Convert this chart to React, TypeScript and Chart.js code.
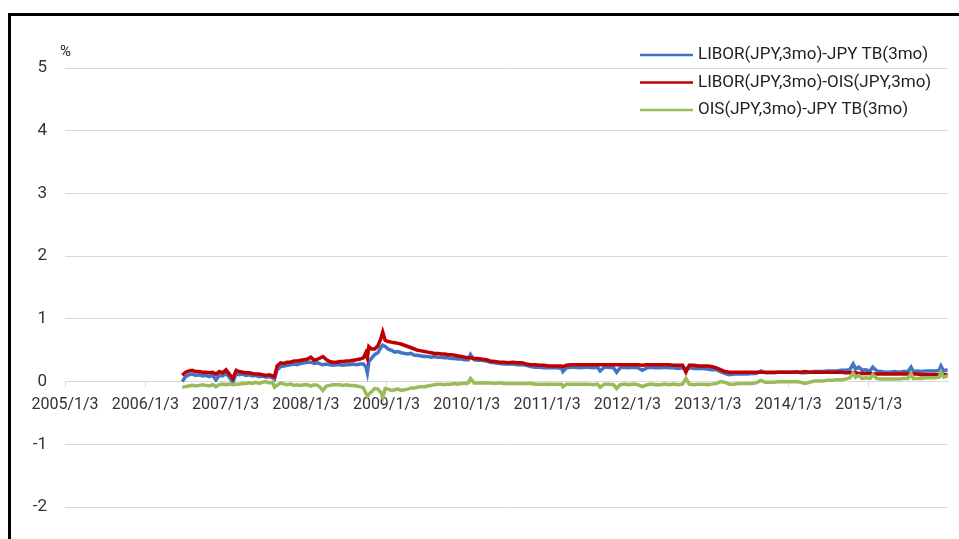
import React, { useEffect, useRef } from "react";
import { Chart, registerables } from "chart.js";

Chart.register(...registerables);

const seriesLabels = [
  "LIBOR(JPY,3mo)-JPY TB(3mo)",
  "LIBOR(JPY,3mo)-OIS(JPY,3mo)",
  "OIS(JPY,3mo)-JPY TB(3mo)",
];
const seriesColors = ["#4472C4", "#C00000", "#9BBB59"];

const tickLabels = [
  "2005/1/3", "2006/1/3", "2007/1/3", "2008/1/3", "2009/1/3", "2010/1/3",
  "2011/1/3", "2012/1/3", "2013/1/3", "2014/1/3", "2015/1/3",
];
const axisStart = "2005/1/3";
const axisEnd = "2015/12/30";
const yTicks = [5, 4, 3, 2, 1, 0, -1, -2, -3];

const dates = [
  // 2006
  "2006/6/20", "2006/7/5", "2006/7/20", "2006/8/5", "2006/8/20", "2006/9/5", "2006/9/20", "2006/10/5", "2006/10/20", "2006/11/5", "2006/11/20", "2006/12/5", "2006/12/20",
  // 2007
  "2007/1/5", "2007/1/20", "2007/2/5", "2007/2/20", "2007/3/5", "2007/3/20", "2007/4/5", "2007/4/20", "2007/5/5", "2007/5/20", "2007/6/5", "2007/6/20", "2007/7/5", "2007/7/20", "2007/8/5", "2007/8/13", "2007/8/25", "2007/9/10", "2007/9/25", "2007/10/10", "2007/10/25", "2007/11/10", "2007/11/25", "2007/12/10", "2007/12/25",
  // 2008
  "2008/1/10", "2008/1/25", "2008/2/10", "2008/2/25", "2008/3/10", "2008/3/20", "2008/4/5", "2008/4/20", "2008/5/5", "2008/5/20", "2008/6/5", "2008/6/20", "2008/7/5", "2008/7/20", "2008/8/5", "2008/8/20", "2008/9/5", "2008/9/20", "2008/10/1", "2008/10/8", "2008/10/15", "2008/10/27", "2008/11/10", "2008/11/25", "2008/12/8", "2008/12/17", "2008/12/28",
  // 2009
  "2009/1/10", "2009/1/25", "2009/2/10", "2009/2/25", "2009/3/10", "2009/3/25", "2009/4/10", "2009/4/25", "2009/5/10", "2009/5/25", "2009/6/10", "2009/6/25", "2009/7/10", "2009/7/25", "2009/8/10", "2009/8/25", "2009/9/10", "2009/9/25", "2009/10/10", "2009/10/25", "2009/11/10", "2009/11/25", "2009/12/10", "2009/12/25",
  // 2010
  "2010/1/10", "2010/1/20", "2010/2/5", "2010/2/20", "2010/3/10", "2010/4/1", "2010/4/20", "2010/5/10", "2010/6/1", "2010/6/20", "2010/7/10", "2010/8/1", "2010/8/20", "2010/9/10", "2010/10/1", "2010/10/20", "2010/11/10", "2010/12/1", "2010/12/20",
  // 2011
  "2011/1/10", "2011/2/1", "2011/2/20", "2011/3/10", "2011/3/16", "2011/4/1", "2011/4/20", "2011/5/10", "2011/6/1", "2011/6/20", "2011/7/10", "2011/8/1", "2011/8/20", "2011/9/1", "2011/9/20", "2011/10/10", "2011/11/1", "2011/11/15", "2011/12/1", "2011/12/20",
  // 2012
  "2012/1/10", "2012/2/1", "2012/2/20", "2012/3/10", "2012/4/1", "2012/4/20", "2012/5/10", "2012/6/1", "2012/6/20", "2012/7/10", "2012/8/1", "2012/8/20", "2012/9/10", "2012/9/25", "2012/10/10", "2012/11/1", "2012/11/20", "2012/12/10",
  // 2013
  "2013/1/1", "2013/1/20", "2013/2/10", "2013/3/1", "2013/3/20", "2013/4/10", "2013/5/1", "2013/5/20", "2013/6/10", "2013/7/1", "2013/7/20", "2013/8/10", "2013/9/1", "2013/9/20", "2013/10/10", "2013/11/1", "2013/11/20", "2013/12/10",
  // 2014
  "2014/1/1", "2014/1/20", "2014/2/10", "2014/3/1", "2014/3/20", "2014/4/10", "2014/5/1", "2014/5/20", "2014/6/10", "2014/7/1", "2014/7/20", "2014/8/10", "2014/9/1", "2014/9/20", "2014/10/10", "2014/10/25", "2014/11/5", "2014/11/20", "2014/12/5", "2014/12/20",
  // 2015
  "2015/1/10", "2015/1/22", "2015/2/10", "2015/3/1", "2015/3/20", "2015/4/10", "2015/5/1", "2015/5/20", "2015/6/10", "2015/7/1", "2015/7/15", "2015/7/25", "2015/8/10", "2015/9/1", "2015/9/20", "2015/10/10", "2015/11/1", "2015/11/20", "2015/11/28", "2015/12/10", "2015/12/28",
];

const liborTb = [
  // 2006
  0.00, 0.08, 0.11, 0.12, 0.10, 0.11, 0.09, 0.10, 0.08, 0.10, 0.03, 0.10, 0.09,
  // 2007
  0.13, 0.07, -0.01, 0.13, 0.11, 0.12, 0.10, 0.11, 0.09, 0.10, 0.08, 0.09, 0.07, 0.08, 0.06, 0.04, 0.19, 0.24, 0.25, 0.26, 0.27, 0.28, 0.27, 0.29, 0.30,
  // 2008
  0.31, 0.31, 0.29, 0.30, 0.28, 0.27, 0.28, 0.27, 0.26, 0.27, 0.27, 0.26, 0.27, 0.27, 0.28, 0.27, 0.28, 0.28, 0.24, 0.14, 0.32, 0.37, 0.43, 0.46, 0.54, 0.58, 0.56,
  // 2009
  0.52, 0.50, 0.47, 0.48, 0.46, 0.45, 0.44, 0.45, 0.42, 0.42, 0.41, 0.40, 0.40, 0.39, 0.40, 0.39, 0.39, 0.38, 0.38, 0.37, 0.37, 0.36, 0.36, 0.35,
  // 2010
  0.35, 0.43, 0.35, 0.34, 0.34, 0.33, 0.31, 0.30, 0.29, 0.28, 0.28, 0.28, 0.27, 0.27, 0.26, 0.24, 0.23, 0.23, 0.22,
  // 2011
  0.22, 0.22, 0.22, 0.21, 0.16, 0.22, 0.23, 0.23, 0.22, 0.23, 0.23, 0.22, 0.23, 0.17, 0.23, 0.23, 0.22, 0.15, 0.22, 0.23,
  // 2012
  0.22, 0.23, 0.22, 0.18, 0.22, 0.23, 0.22, 0.22, 0.23, 0.22, 0.22, 0.21, 0.22, 0.21, 0.22, 0.21, 0.21, 0.21,
  // 2013
  0.20, 0.19, 0.19, 0.16, 0.13, 0.11, 0.12, 0.12, 0.12, 0.12, 0.13, 0.13, 0.17, 0.14, 0.14, 0.14, 0.15, 0.15,
  // 2014
  0.15, 0.15, 0.16, 0.14, 0.14, 0.15, 0.16, 0.16, 0.16, 0.17, 0.17, 0.17, 0.18, 0.18, 0.19, 0.28, 0.20, 0.23, 0.18, 0.19,
  // 2015
  0.17, 0.23, 0.17, 0.16, 0.15, 0.15, 0.16, 0.15, 0.16, 0.16, 0.23, 0.16, 0.17, 0.16, 0.17, 0.17, 0.17, 0.18, 0.25, 0.17, 0.19,
];

const liborOis = [
  // 2006
  0.10, 0.15, 0.17, 0.18, 0.16, 0.16, 0.15, 0.15, 0.14, 0.15, 0.12, 0.16, 0.14,
  // 2007
  0.19, 0.12, 0.05, 0.18, 0.16, 0.15, 0.14, 0.14, 0.13, 0.12, 0.12, 0.11, 0.10, 0.11, 0.09, 0.08, 0.25, 0.30, 0.29, 0.31, 0.31, 0.33, 0.33, 0.34, 0.35,
  // 2008
  0.36, 0.39, 0.34, 0.36, 0.38, 0.40, 0.35, 0.32, 0.31, 0.31, 0.32, 0.32, 0.33, 0.33, 0.34, 0.35, 0.36, 0.38, 0.46, 0.38, 0.56, 0.52, 0.52, 0.57, 0.68, 0.79, 0.66,
  // 2009
  0.64, 0.63, 0.62, 0.61, 0.60, 0.58, 0.56, 0.54, 0.52, 0.50, 0.49, 0.48, 0.47, 0.46, 0.45, 0.45, 0.44, 0.44, 0.43, 0.43, 0.42, 0.41, 0.40, 0.39,
  // 2010
  0.38, 0.38, 0.37, 0.37, 0.36, 0.35, 0.33, 0.32, 0.31, 0.31, 0.30, 0.31, 0.30, 0.30, 0.28, 0.27, 0.27, 0.26, 0.26,
  // 2011
  0.25, 0.25, 0.25, 0.25, 0.24, 0.26, 0.27, 0.27, 0.27, 0.27, 0.27, 0.27, 0.27, 0.27, 0.27, 0.27, 0.27, 0.27, 0.27, 0.27,
  // 2012
  0.27, 0.27, 0.27, 0.26, 0.27, 0.27, 0.27, 0.27, 0.27, 0.27, 0.26, 0.26, 0.26, 0.15, 0.26, 0.26, 0.25, 0.25,
  // 2013
  0.25, 0.24, 0.22, 0.19, 0.16, 0.15, 0.15, 0.15, 0.15, 0.15, 0.15, 0.15, 0.15, 0.15, 0.15, 0.15, 0.15, 0.15,
  // 2014
  0.15, 0.15, 0.15, 0.15, 0.16, 0.15, 0.15, 0.15, 0.15, 0.15, 0.15, 0.15, 0.15, 0.14, 0.14, 0.14, 0.14, 0.13, 0.13, 0.13,
  // 2015
  0.13, 0.12, 0.12, 0.12, 0.12, 0.12, 0.12, 0.12, 0.12, 0.12, 0.12, 0.12, 0.12, 0.11, 0.11, 0.11, 0.11, 0.11, 0.11, 0.11, 0.11,
];

const oisTb = [
  // 2006
  -0.09, -0.08, -0.07, -0.06, -0.07, -0.06, -0.05, -0.06, -0.07, -0.05, -0.08, -0.05, -0.04,
  // 2007
  -0.05, -0.04, -0.05, -0.04, -0.04, -0.03, -0.03, -0.02, -0.03, -0.01, -0.03, -0.01, 0.00, -0.02, -0.01, -0.09, -0.06, -0.02, -0.04, -0.05, -0.04, -0.06, -0.05, -0.06, -0.05,
  // 2008
  -0.05, -0.07, -0.05, -0.06, -0.10, -0.14, -0.07, -0.06, -0.05, -0.05, -0.05, -0.06, -0.05, -0.06, -0.06, -0.07, -0.08, -0.10, -0.18, -0.23, -0.20, -0.16, -0.11, -0.12, -0.17, -0.25, -0.11,
  // 2009
  -0.12, -0.14, -0.13, -0.12, -0.14, -0.13, -0.12, -0.10, -0.10, -0.09, -0.08, -0.08, -0.07, -0.06, -0.05, -0.04, -0.04, -0.05, -0.04, -0.04, -0.03, -0.04, -0.03, -0.03,
  // 2010
  -0.02, 0.05, -0.02, -0.02, -0.02, -0.02, -0.02, -0.03, -0.02, -0.03, -0.03, -0.03, -0.03, -0.03, -0.03, -0.03, -0.04, -0.04, -0.04,
  // 2011
  -0.04, -0.04, -0.04, -0.04, -0.08, -0.04, -0.04, -0.04, -0.04, -0.04, -0.04, -0.05, -0.04, -0.09, -0.04, -0.04, -0.05, -0.11, -0.05, -0.04,
  // 2012
  -0.05, -0.04, -0.05, -0.08, -0.05, -0.04, -0.05, -0.05, -0.04, -0.05, -0.04, -0.05, -0.04, 0.05, -0.04, -0.05, -0.04, -0.04,
  // 2013
  -0.05, -0.04, -0.03, 0.00, -0.01, -0.04, -0.04, -0.03, -0.03, -0.03, -0.03, -0.02, 0.02, -0.01, -0.01, -0.01, 0.00, 0.00,
  // 2014
  0.00, 0.00, 0.00, -0.01, -0.03, -0.01, 0.01, 0.01, 0.01, 0.02, 0.02, 0.03, 0.03, 0.04, 0.06, 0.14, 0.07, 0.10, 0.05, 0.06,
  // 2015
  0.05, 0.11, 0.05, 0.04, 0.04, 0.04, 0.04, 0.04, 0.05, 0.05, 0.13, 0.05, 0.05, 0.05, 0.06, 0.06, 0.06, 0.07, 0.15, 0.07, 0.09,
];

const seriesValues = [liborTb, liborOis, oisTb];

function dayOf(s: string): number {
  const [y, m, d] = s.split("/").map(Number);
  const [y0, m0, d0] = axisStart.split("/").map(Number);
  return (Date.UTC(y, m - 1, d) - Date.UTC(y0, m0 - 1, d0)) / 86400000;
}

const tickDays = tickLabels.map(dayOf);

const overlayPlugin = {
  id: "overlayLegend",
  afterDraw(chart: any) {
    const { ctx, chartArea } = chart;
    ctx.save();
    ctx.textBaseline = "middle";
    ctx.textAlign = "left";
    ctx.font = "17px Roboto";
    chart.data.datasets.forEach((ds: any, i: number) => {
      const y = chartArea.top - 13 + i * 27.5;
      const x0 = chartArea.right - 308;
      ctx.strokeStyle = ds.borderColor;
      ctx.lineWidth = 2.5;
      ctx.beginPath();
      ctx.moveTo(x0, y);
      ctx.lineTo(x0 + 53, y);
      ctx.stroke();
      ctx.fillStyle = "#222";
      ctx.fillText(ds.label, x0 + 58, y);
    });
    ctx.font = "15px Roboto";
    ctx.fillStyle = "#222";
    ctx.fillText("%", chartArea.left - 5, chartArea.top - 16);
    ctx.restore();
  },
};

export default function App() {
  const canvasRef = useRef<HTMLCanvasElement | null>(null);

  useEffect(() => {
    if (!canvasRef.current) return;
    const datasets = seriesLabels.map((label, i) => ({
      label,
      data: dates.map((d, j) => ({ x: dayOf(d), y: seriesValues[i][j] })),
      borderColor: seriesColors[i],
      backgroundColor: seriesColors[i],
      borderWidth: 3.5,
      pointRadius: 0,
      tension: 0,
      order: 2 - i,
    }));
    const chart = new Chart(canvasRef.current, {
      type: "line",
      data: { datasets },
      options: {
        animation: false,
        responsive: false,
        maintainAspectRatio: false,
        layout: { padding: { top: 52, right: 13, bottom: 6, left: 0 } },
        plugins: { legend: { display: false }, tooltip: { enabled: false } },
        scales: {
          x: {
            type: "linear",
            position: { y: 0 } as any,
            min: 0,
            max: dayOf(axisEnd),
            afterBuildTicks: (scale: any) => {
              scale.ticks = tickDays.map((v) => ({ value: v }));
            },
            ticks: {
              autoSkip: false,
              maxRotation: 0,
              minRotation: 0,
              padding: 9,
              color: "#333",
              font: { family: "Roboto", size: 16 },
              callback: (v: any) => {
                const idx = tickDays.indexOf(Number(v));
                return idx >= 0 ? tickLabels[idx] : "";
              },
            },
            grid: { drawOnChartArea: false, drawTicks: true, tickLength: 5, color: "#d9d9d9" },
            border: { display: true, color: "#d9d9d9" },
          },
          y: {
            min: yTicks[yTicks.length - 1],
            max: yTicks[0],
            afterFit: (scale: any) => {
              scale.width = 54;
            },
            afterBuildTicks: (scale: any) => {
              scale.ticks = yTicks.map((v) => ({ value: v }));
            },
            ticks: {
              padding: 18,
              color: "#333",
              font: { family: "Roboto", size: 17 },
            },
            grid: { color: "#d9d9d9", drawTicks: false, lineWidth: 1 },
            border: { display: false },
          },
        },
      },
      plugins: [overlayPlugin],
    });
    return () => chart.destroy();
  }, []);

  return (
    <div style={{ position: "fixed", left: 0, top: 0, width: 959, height: 539, overflow: "hidden", background: "#fff" }}>
      <div
        style={{
          position: "absolute",
          left: 8,
          top: 13,
          width: 975,
          height: 620,
          border: "3px solid #000",
          boxSizing: "border-box",
          background: "#fff",
        }}
      >
        <canvas ref={canvasRef} width={950} height={582} style={{ position: "absolute", left: 0, top: 0, display: "block" }} />
      </div>
    </div>
  );
}
